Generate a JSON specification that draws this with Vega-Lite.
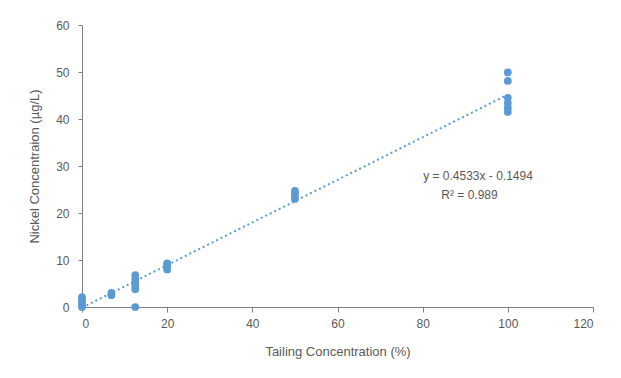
{
  "$schema": "https://vega.github.io/schema/vega-lite/v6.json",
  "width": 511,
  "height": 282,
  "autosize": {"type": "none"},
  "padding": {"left": 82, "top": 25, "right": 28, "bottom": 71},
  "background": "white",
  "config": {
    "view": {"stroke": null},
    "font": "Liberation Sans",
    "axis": {
      "grid": false,
      "domainColor": "#7f7f7f",
      "tickColor": "#7f7f7f",
      "labelColor": "#595959",
      "titleColor": "#595959",
      "labelFontSize": 12,
      "titleFontSize": 13,
      "titleFontWeight": "normal",
      "tickSize": 5
    }
  },
  "datasets": {
    "points": [
      {"tailing": 0, "nickel": 0.0},
      {"tailing": 0, "nickel": 0.4},
      {"tailing": 0, "nickel": 1.0},
      {"tailing": 0, "nickel": 1.6},
      {"tailing": 0, "nickel": 2.1},
      {"tailing": 6.9, "nickel": 2.5},
      {"tailing": 6.9, "nickel": 3.0},
      {"tailing": 12.5, "nickel": 0.0},
      {"tailing": 12.5, "nickel": 3.8},
      {"tailing": 12.5, "nickel": 4.5},
      {"tailing": 12.5, "nickel": 5.2},
      {"tailing": 12.5, "nickel": 6.0},
      {"tailing": 12.5, "nickel": 6.8},
      {"tailing": 20, "nickel": 8.0},
      {"tailing": 20, "nickel": 8.6},
      {"tailing": 20, "nickel": 9.1},
      {"tailing": 20, "nickel": 9.3},
      {"tailing": 50, "nickel": 23.0},
      {"tailing": 50, "nickel": 23.6},
      {"tailing": 50, "nickel": 24.2},
      {"tailing": 50, "nickel": 24.7},
      {"tailing": 100, "nickel": 41.5},
      {"tailing": 100, "nickel": 42.4},
      {"tailing": 100, "nickel": 43.4},
      {"tailing": 100, "nickel": 44.5},
      {"tailing": 100, "nickel": 48.1},
      {"tailing": 100, "nickel": 49.9}
    ],
    "trend": [
      {"tailing": 0, "nickel": -0.1494},
      {"tailing": 100, "nickel": 45.1806}
    ],
    "labels": [
      {"tailing": 93, "nickel": 27.8, "text": "y = 0.4533x - 0.1494"},
      {"tailing": 91, "nickel": 23.9, "text": "R² = 0.989"}
    ]
  },
  "layer": [
    {
      "data": {"name": "trend"},
      "mark": {"type": "line", "color": "#5b9bd5", "strokeWidth": 2, "strokeDash": [2, 3], "clip": false},
      "encoding": {
        "x": {"field": "tailing", "type": "quantitative"},
        "y": {"field": "nickel", "type": "quantitative"}
      }
    },
    {
      "data": {"name": "points"},
      "mark": {"type": "circle", "color": "#5b9bd5", "opacity": 1, "size": 60},
      "encoding": {
        "x": {
          "field": "tailing", "type": "quantitative",
          "scale": {"domain": [0, 120], "nice": false, "zero": false},
          "axis": {"values": [0, 20, 40, 60, 80, 100, 120], "title": "Tailing Concentration (%)", "labelPadding": 6, "titlePadding": 16}
        },
        "y": {
          "field": "nickel", "type": "quantitative",
          "scale": {"domain": [0, 60], "nice": false},
          "axis": {"values": [0, 10, 20, 30, 40, 50, 60], "title": "Nickel Concentraion (µg/L)", "labelPadding": 9, "titlePadding": 14, "tickSize": 4}
        }
      }
    },
    {
      "data": {"name": "labels"},
      "mark": {"type": "text", "color": "#595959", "fontSize": 12, "align": "center", "baseline": "middle"},
      "encoding": {
        "x": {"field": "tailing", "type": "quantitative"},
        "y": {"field": "nickel", "type": "quantitative"},
        "text": {"field": "text"}
      }
    }
  ]
}
